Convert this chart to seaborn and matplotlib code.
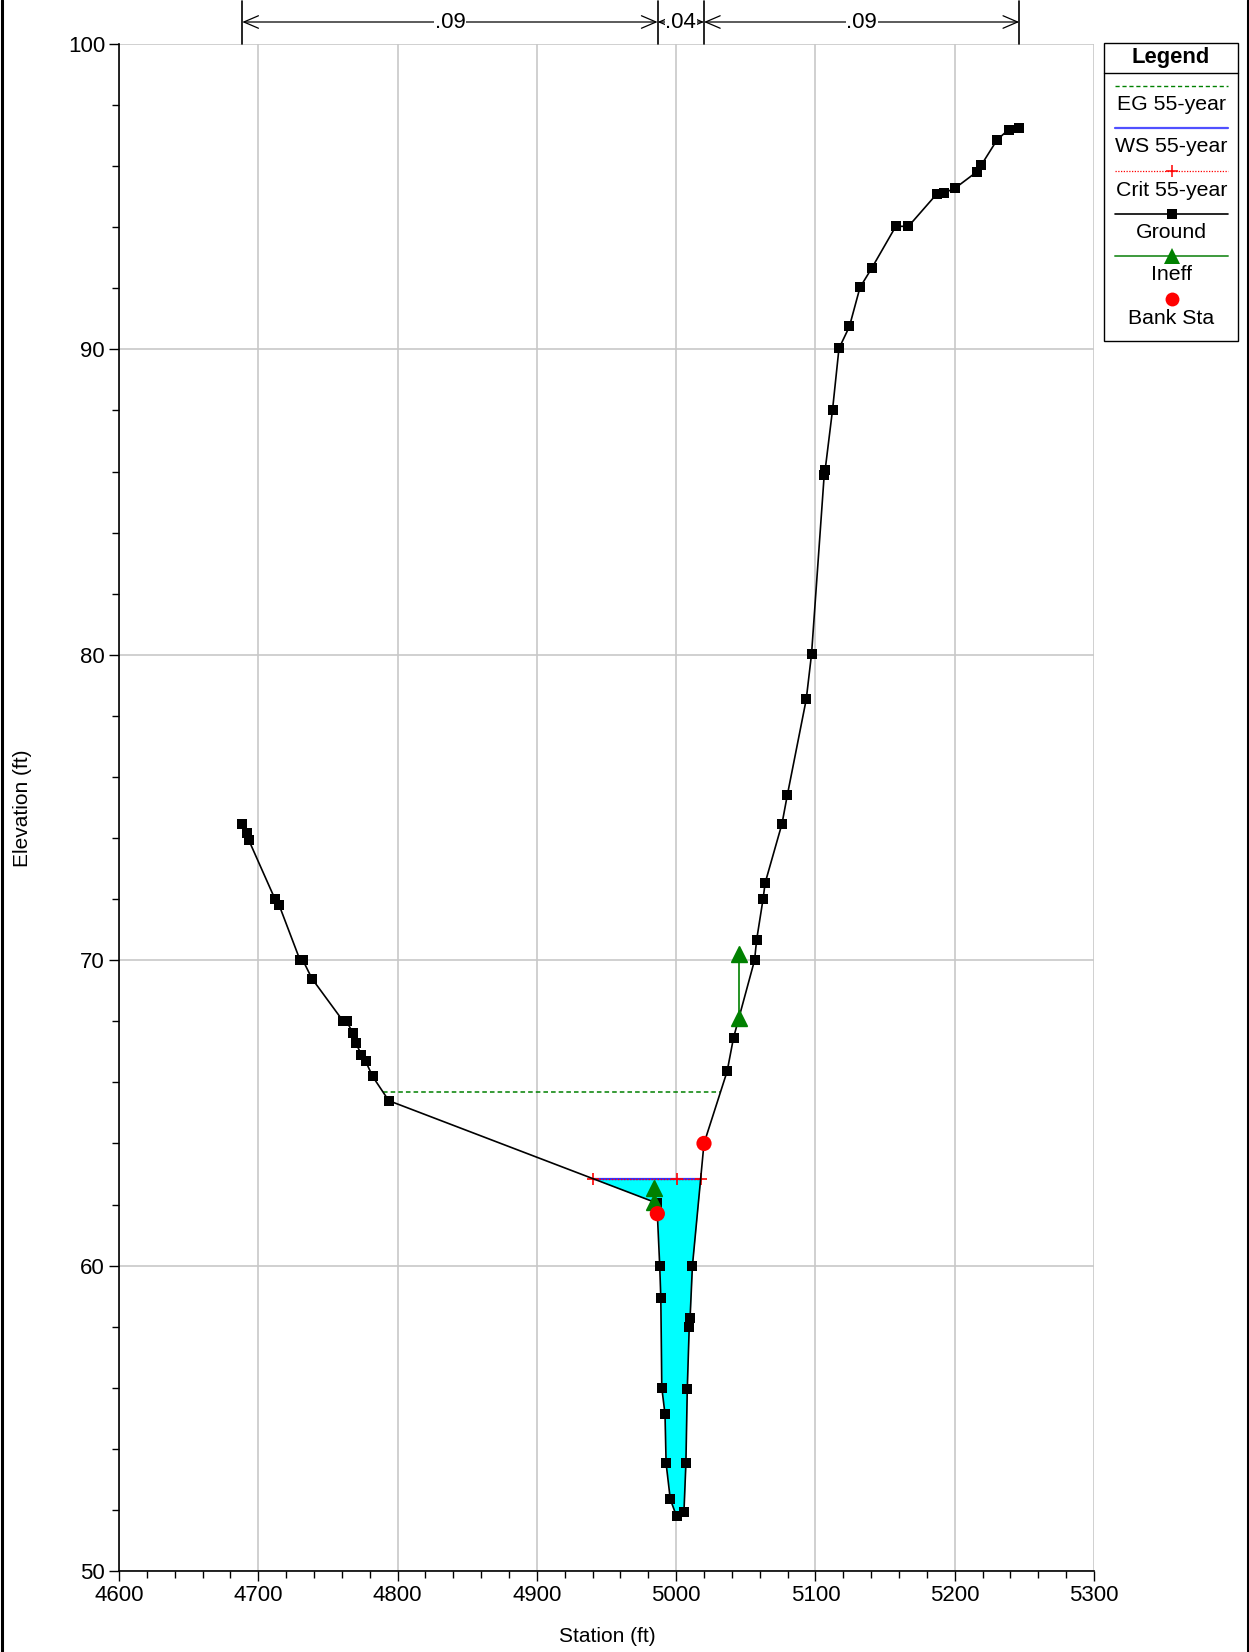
import numpy as np
import matplotlib
matplotlib.use("Agg")
import matplotlib.pyplot as plt
from matplotlib.lines import Line2D
from matplotlib.patches import Rectangle
from matplotlib.ticker import MultipleLocator
import seaborn as sns
import pandas as pd

# ---------------- data ----------------
ground_sta = [4688.5, 4691.6, 4693.0, 4712.0, 4715.0, 4730.0, 4732.0, 4738.5, 4761.0, 4763.5,
              4768.0, 4770.0, 4774.0, 4777.0, 4782.0, 4793.7, 4986.0, 4986.5, 4988.2, 4989.0,
              4989.7, 4992.0, 4992.8, 4995.8, 5000.3, 5005.6, 5007.0, 5008.0, 5009.4, 5010.0,
              5011.7, 5020.0, 5036.6, 5041.2, 5056.3, 5057.8, 5062.4, 5063.9, 5076.0, 5079.8,
              5093.4, 5097.2, 5106.3, 5107.0, 5112.3, 5116.9, 5124.4, 5132.0, 5140.3, 5157.7,
              5166.8, 5187.3, 5192.5, 5200.0, 5216.0, 5219.0, 5230.4, 5238.7, 5246.3]
ground_elev = [74.47, 74.15, 73.95, 72.0, 71.8, 70.0, 70.0, 69.4, 68.0, 68.0,
               67.6, 67.3, 66.9, 66.7, 66.2, 65.4, 62.05, 61.7, 60.0, 58.94,
               56.0, 55.14, 53.52, 52.35, 51.79, 51.93, 53.52, 55.97, 58.0, 58.28,
               60.0, 64.0, 66.36, 67.46, 70.0, 70.67, 72.0, 72.53, 74.47, 75.4,
               78.54, 80.02, 85.89, 86.06, 88.03, 90.03, 90.75, 92.03, 92.65, 94.03,
               94.03, 95.1, 95.13, 95.27, 95.82, 96.03, 96.86, 97.2, 97.24]

eg_elev = 65.67
ws_elev = 62.83
crit_elev = 62.83
crit_sta = [4940.5, 5000.3, 5018.2]

bank_sta = [4986.5, 5020.0]
bank_elev = [61.7, 64.0]

ineff_sta = [4984.4, 5045.0]
ineff_elev = [62.55, 70.2]

n_breaks = [4688.5, 4986.7, 5020.0, 5246.3]
n_values = [".09", ".04", ".09"]

legend_labels = ["EG 55-year", "WS 55-year", "Crit 55-year", "Ground", "Ineff", "Bank Sta"]

# ---------------- style ----------------
sns.set_style("white")
plt.rcParams['font.family'] = ['Liberation Sans', 'DejaVu Sans']
plt.rcParams['font.size'] = 15
plt.rcParams['text.color'] = 'black'
plt.rcParams['axes.labelcolor'] = 'black'
plt.rcParams['xtick.color'] = 'black'
plt.rcParams['ytick.color'] = 'black'

W, H = 1249, 1652
fig = plt.figure(figsize=(W / 100, H / 100), dpi=100)
L, R, T, B = 119, 1094, 44, 1571
ax = fig.add_axes([L / W, 1 - B / H, (R - L) / W, (B - T) / H])

gs = np.array(ground_sta)
ge = np.array(ground_elev)
df = pd.DataFrame({"Station": gs, "Elevation": ge})


def crossings(level):
    xs = []
    for i in range(len(gs) - 1):
        a, b = ge[i] - level, ge[i + 1] - level
        if a == 0:
            xs.append(gs[i])
        elif a * b < 0:
            xs.append(gs[i] + (gs[i + 1] - gs[i]) * a / (a - b))
    return xs

# water fill
ws_x = crossings(ws_elev)
wl, wr = ws_x[0], ws_x[-1]
ax.fill_between(gs, ge, ws_elev, where=ge <= ws_elev, interpolate=True,
                color="#00ffff", lw=0, zorder=2)

# EG line
eg_x = crossings(eg_elev)
sns.lineplot(x=[eg_x[0], eg_x[-1]], y=[eg_elev, eg_elev], ax=ax, color="#008000",
             lw=1.1, linestyle=(0, (3, 2)), zorder=3, legend=False)
# WS line
sns.lineplot(x=[wl, wr], y=[ws_elev, ws_elev], ax=ax, color="#3030ff", lw=1.6,
             zorder=3, legend=False)
# Crit line
ax.plot(crit_sta, [crit_elev] * len(crit_sta), color="red", lw=1.0, linestyle=(0, (1, 1.2)),
        marker="+", markersize=9, markeredgewidth=1.2, zorder=4)

# Ground
sns.lineplot(data=df, x="Station", y="Elevation", sort=False, estimator=None, ax=ax,
             color="black", lw=1.2, zorder=5, legend=False)
sns.scatterplot(data=df, x="Station", y="Elevation", ax=ax, marker="s", s=42,
                color="black", edgecolor="black", linewidth=0, zorder=6, legend=False)

# Ineffective flow
for s, e in zip(ineff_sta, ineff_elev):
    g = float(np.interp(s, gs, ge))
    ax.plot([s, s], [g, e], color="#008000", lw=1.2, zorder=7)
    ax.plot([s, s], [g, e], linestyle="none", marker="^", markersize=11,
            color="#008000", zorder=8)

# Bank stations
sns.scatterplot(x=bank_sta, y=bank_elev, ax=ax, color="red", s=120, edgecolor="none",
                zorder=9, legend=False)

# Axes formatting
ax.set_xlim(4600, 5300)
ax.set_ylim(50, 100)
ax.xaxis.set_major_locator(MultipleLocator(100))
ax.xaxis.set_minor_locator(MultipleLocator(20))
ax.yaxis.set_major_locator(MultipleLocator(10))
ax.yaxis.set_minor_locator(MultipleLocator(2))
ax.grid(True, which="major", color="#c8c8c8", lw=1.2)
ax.set_axisbelow(True)
for sp in ["top", "right"]:
    ax.spines[sp].set_visible(False)
for sp in ["left", "bottom"]:
    ax.spines[sp].set_color("black")
    ax.spines[sp].set_linewidth(1.2)
ax.tick_params(axis="both", which="major", direction="out", length=7, width=1.0,
               color="black", labelcolor="black", labelsize=16, pad=3, left=True, bottom=True)
ax.tick_params(axis="both", which="minor", direction="out", length=5, width=1.0,
               color="black", left=True, bottom=True)
ax.set_xlabel("")
ax.set_ylabel("")
fig.text(607 / W, 1 - 1637 / H, "Station (ft)", ha="center", va="center", fontsize=15,
         color="black")
fig.text(23 / W, 1 - 808 / H, "Elevation (ft)", ha="center", va="center", fontsize=15,
         rotation=90, color="black")

# Manning's n annotation above the plot
trans = ax.get_xaxis_transform()
y_arrow = 1 + (T - 22) / (B - T)
y_top = 1 + (T - 1) / (B - T)
for s in n_breaks:
    ax.plot([s, s], [1.0, y_top], transform=trans, color="black", lw=1.2, clip_on=False)
for (a, b), lab in zip(zip(n_breaks[:-1], n_breaks[1:]), n_values):
    ax.annotate("", xy=(b, y_arrow), xytext=(a, y_arrow), xycoords=trans, textcoords=trans,
                arrowprops=dict(arrowstyle="<->,head_length=0.7,head_width=0.3",
                                color="black", lw=0.9, shrinkA=0, shrinkB=0),
                annotation_clip=False)
    ax.text((a + b) / 2, y_arrow, lab, transform=trans, ha="center", va="center",
            fontsize=16, color="black",
            bbox=dict(facecolor="white", edgecolor="none", pad=0.5),
            clip_on=False, zorder=10)

# Legend box (drawn in figure pixel coordinates)
def fx(px):
    return px / W


def fy(py):
    return 1 - py / H

bx0, bx1, by0, by1 = 1104, 1238, 43, 341
fig.add_artist(Rectangle((fx(bx0), fy(by1)), fx(bx1) - fx(bx0), fy(by0) - fy(by1),
                         transform=fig.transFigure, facecolor="white", edgecolor="black",
                         lw=1.0))
fig.add_artist(Line2D([fx(bx0), fx(bx1)], [fy(73), fy(73)], transform=fig.transFigure,
                      color="black", lw=1.0))
fig.text(fx((bx0 + bx1) / 2), fy(57), "Legend", ha="center", va="center", fontsize=15.8,
         fontweight="bold", color="black")
lx0, lx1 = 1115, 1228
lxm = (lx0 + lx1) / 2
line_y = [86, 128, 171, 214, 256, 299]
text_y = [105, 147, 190, 233, 275, 318]
styles = [
    dict(color="#008000", lw=1.0, linestyle=(0, (3, 2))),
    dict(color="#5050ff", lw=1.6),
    dict(color="red", lw=0.9, linestyle=(0, (1, 1.2))),
    dict(color="black", lw=1.2),
    dict(color="#3c9a3c", lw=1.4),
    None,
]
mk = [None, None, dict(marker="+", markersize=9, markeredgewidth=1.1, color="red"),
      dict(marker="s", markersize=6.5, color="black"),
      dict(marker="^", markersize=11, color="#008000"),
      dict(marker="o", markersize=10, color="red")]
for ly, ty, st, m, lab in zip(line_y, text_y, styles, mk, legend_labels):
    if st is not None:
        fig.add_artist(Line2D([fx(lx0), fx(lx1)], [fy(ly), fy(ly)],
                              transform=fig.transFigure, **st))
    if m is not None:
        fig.add_artist(Line2D([fx(lxm)], [fy(ly)], transform=fig.transFigure,
                              linestyle="none", markeredgewidth=m.pop("markeredgewidth", 0.0),
                              markerfacecolor=m["color"], markeredgecolor=m["color"],
                              marker=m["marker"], markersize=m["markersize"]))
    fig.text(fx(lxm), fy(ty), lab, ha="center", va="center", fontsize=15.3, color="black")

# figure side borders
fig.add_artist(Line2D([fx(1.5), fx(1.5)], [0, 1], transform=fig.transFigure, color="black", lw=2.2))
fig.add_artist(Line2D([fx(1247.5), fx(1247.5)], [0, 1], transform=fig.transFigure, color="black", lw=2.2))

fig.savefig("out.png", dpi=100)
